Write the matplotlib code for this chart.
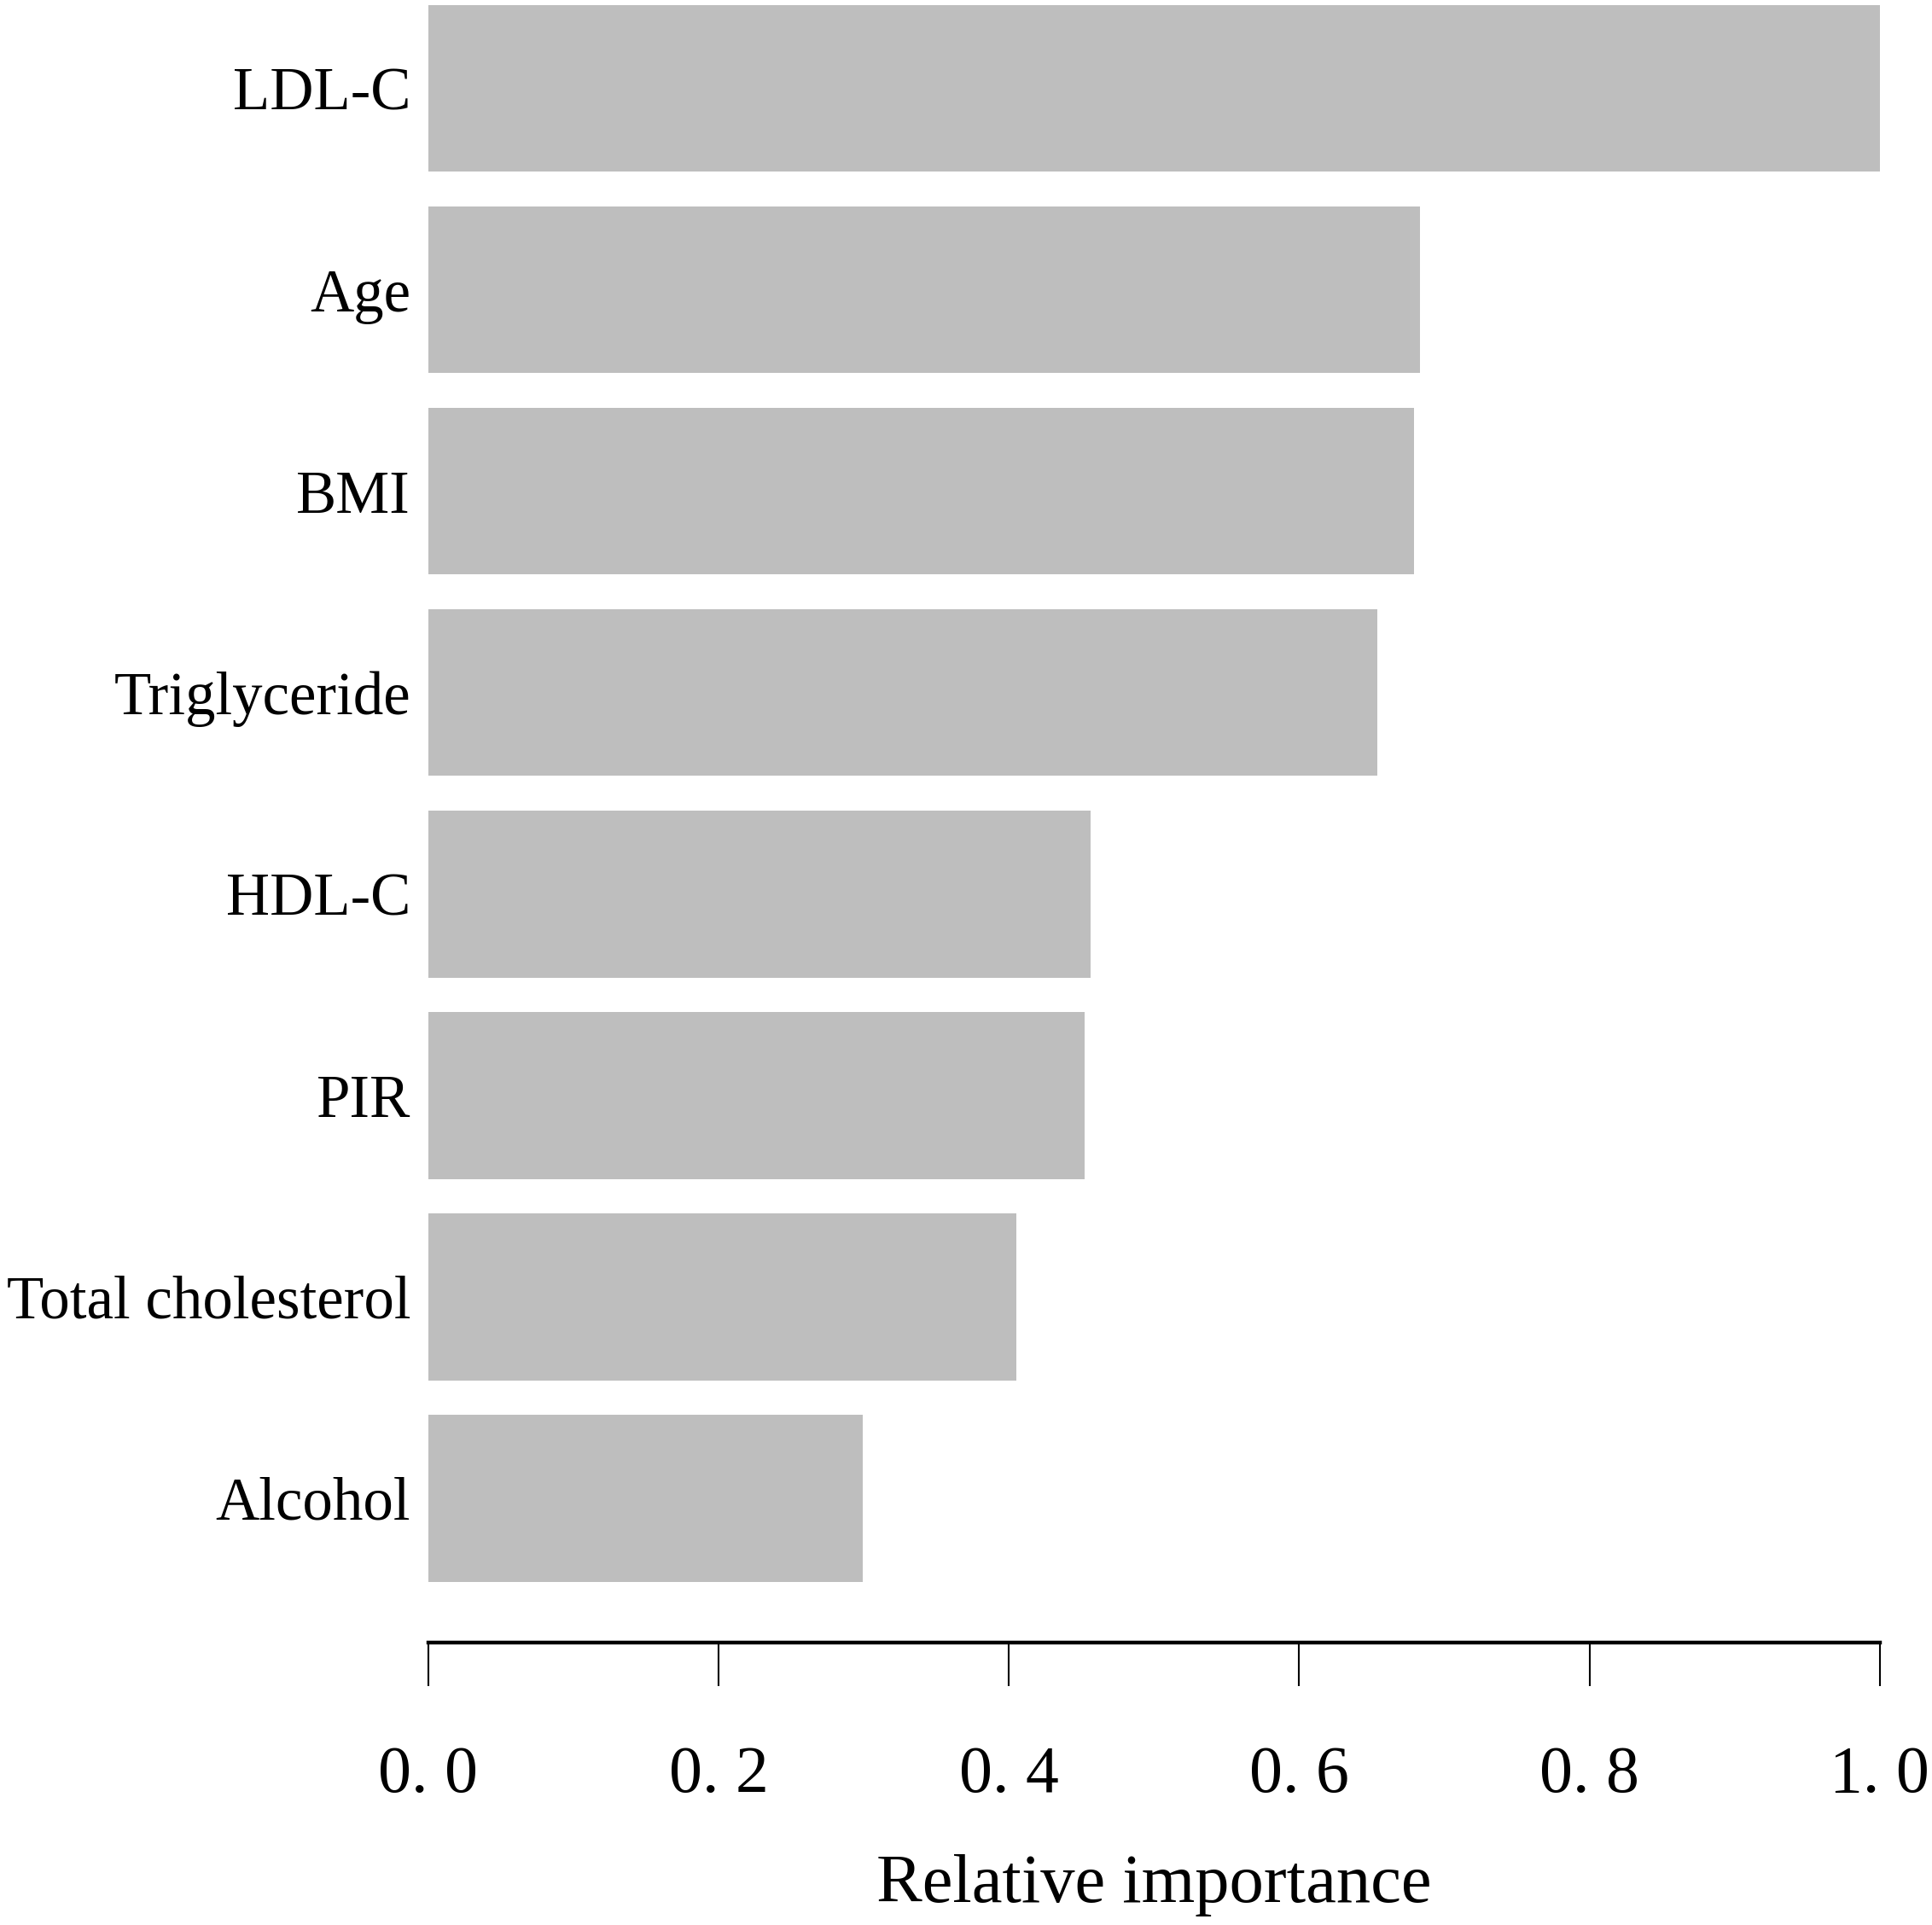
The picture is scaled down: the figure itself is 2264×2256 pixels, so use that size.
import numpy as np
import matplotlib
matplotlib.use('Agg')
import matplotlib.pyplot as plt

# feature importance, top to bottom
features = ['LDL-C', 'Age', 'BMI', 'Triglyceride', 'HDL-C', 'PIR',
            'Total cholesterol', 'Alcohol']
importance = [1.0, 0.683, 0.679, 0.654, 0.456, 0.452, 0.405, 0.299]
xticks = [0.0, 0.2, 0.4, 0.6, 0.8, 1.0]
xtick_labels = ['0. 0', '0. 2', '0. 4', '0. 6', '0. 8', '1. 0']

plt.rcParams['font.family'] = ['Liberation Serif', 'DejaVu Serif']

fig = plt.figure(figsize=(22.64, 22.56), dpi=100)
ax = fig.add_axes([0.2217, 0.1467, 0.973 - 0.2217, 1 - 0.1467])

y = np.arange(len(features))
ax.barh(y, importance, height=0.83, color='#bebebe', left=0)

ax.set_xlim(0, 1.0)
ax.set_ylim(7.718, -0.4386)

ax.set_yticks(y)
ax.set_yticklabels(features, fontsize=51)
ax.tick_params(axis='y', length=0, pad=15)

ax.set_xticks(xticks)
ax.set_xticklabels(xtick_labels, fontsize=56)
ax.tick_params(axis='x', direction='out', length=37, width=1.5, pad=50)

for s in ['top', 'right', 'left']:
    ax.spines[s].set_visible(False)
ax.spines['bottom'].set_linewidth(3.2)

ax.set_xlabel('Relative importance', fontsize=58, labelpad=40)

fig.savefig('out.png', dpi=100)
